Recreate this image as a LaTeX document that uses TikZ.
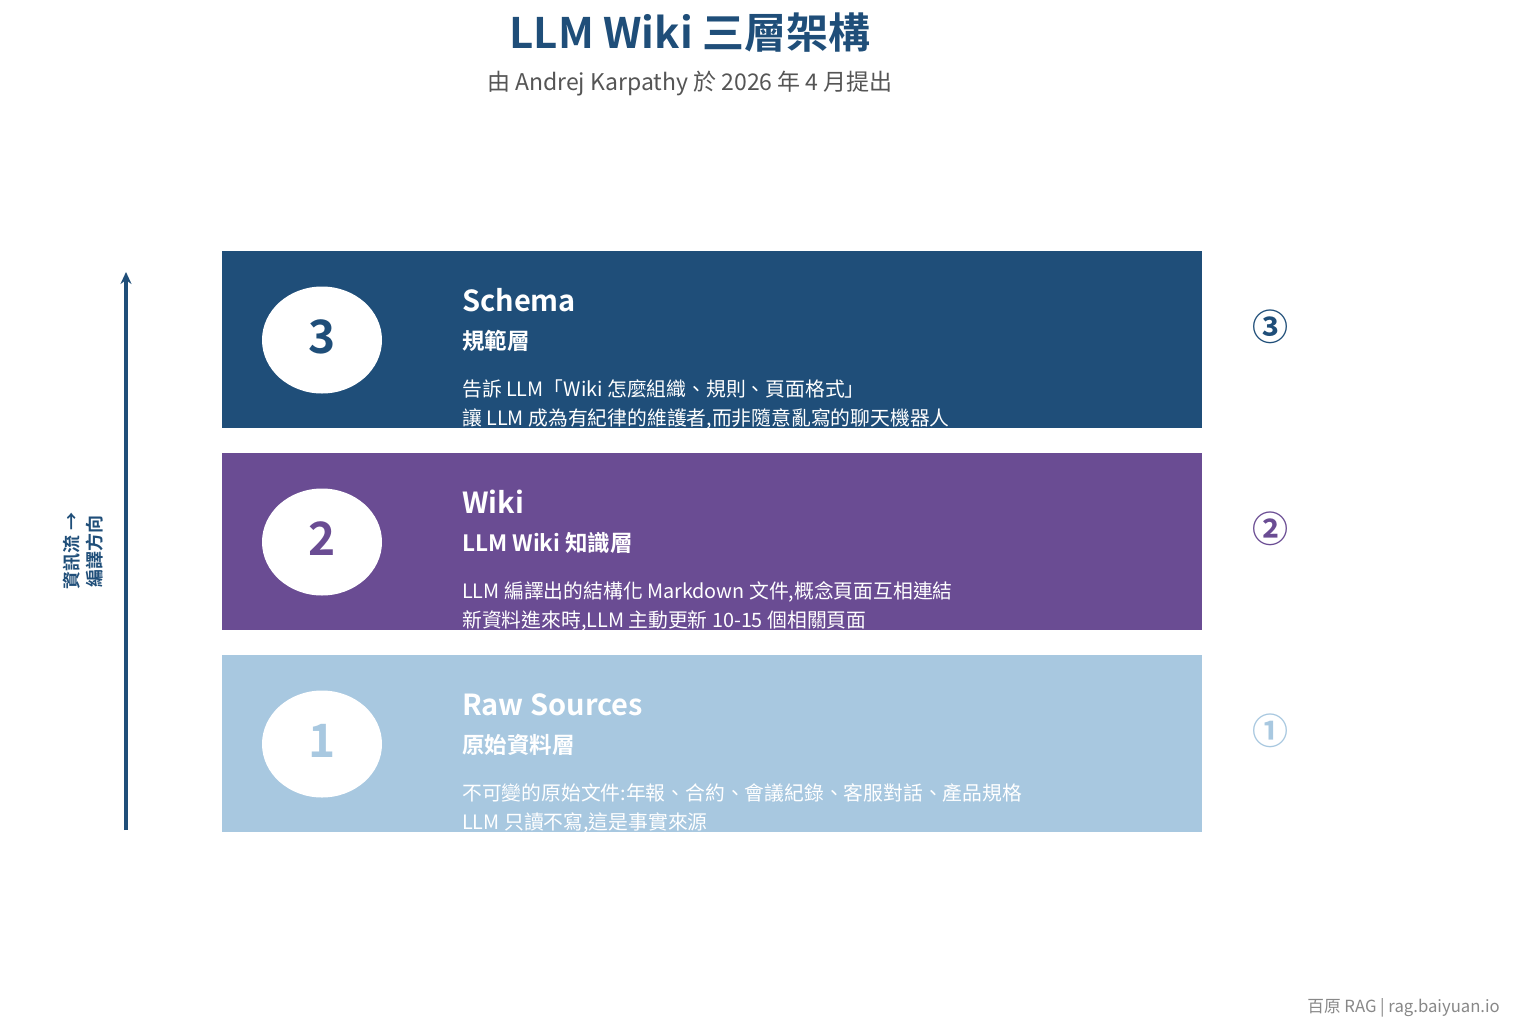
\documentclass[tikz,border=0pt]{standalone}
\usepackage{fontspec}
\setmainfont{Noto Sans CJK TC}[BoldFont=* Bold]
\usetikzlibrary{arrows.meta,shapes.geometric}
\definecolor{cdark}{HTML}{1F4E79}
\definecolor{cpurple}{HTML}{6A4C93}
\definecolor{clight}{HTML}{A8C8E0}
\definecolor{cgray}{HTML}{555555}
\definecolor{cfoot}{HTML}{888888}
\begin{document}
\begin{tikzpicture}[x=1pt,y=-1pt,
  layerbox/.style={fill=#1,draw=none,minimum width=980pt,minimum height=177pt,anchor=north west,inner sep=0pt},
  badge/.style={ellipse,fill=white,minimum width=120pt,minimum height=107pt,inner sep=0pt,text=#1,font=\bfseries\fontsize{46}{50}\selectfont},
  ltitle/.style={anchor=base west,text=white,font=\bfseries\fontsize{29}{33}\selectfont,inner sep=0pt},
  lsub/.style={anchor=base west,text=white,font=\bfseries\fontsize{22.5}{26}\selectfont,inner sep=0pt},
  ldesc/.style={anchor=base west,text=white,font=\fontsize{19.8}{23}\selectfont,inner sep=0pt},
  side/.style={text=#1,font=\bfseries\fontsize{36}{40}\selectfont,inner sep=0pt},
]
\useasboundingbox (0,0) rectangle (1515,1034);
\fill[white] (0,0) rectangle (1515,1034);
% title
\node[text=cdark,font=\bfseries\fontsize{42}{46}\selectfont,inner sep=0pt] (title) at (690,33) {LLM Wiki 三層架構};
\node[text=cgray,font=\fontsize{23}{27}\selectfont,inner sep=0pt] (subtitle) at (690,84) {由 Andrej Karpathy 於 2026 年 4 月提出};
% layers
\node[layerbox=cdark] (b3) at (222,251) {};
\node[layerbox=cpurple] (b2) at (222,453) {};
\node[layerbox=clight] (b1) at (222,655) {};
% badges
\node[badge=cdark] (n3) at (322,340) {\raisebox{6pt}{3}};
\node[badge=cpurple] (n2) at (322,542) {\raisebox{6pt}{2}};
\node[badge=clight] (n1) at (322,744) {\raisebox{6pt}{1}};
% layer 3 text
\node[ltitle] (t3) at (462,311) {Schema};
\node[lsub] (s3) at (462,349) {規範層};
\node[ldesc] (d3a) at (462,396) {告訴 LLM「Wiki 怎麼組織、規則、頁面格式」};
\node[ldesc] (d3b) at (462,425) {讓 LLM 成為有紀律的維護者,而非隨意亂寫的聊天機器人};
% layer 2 text
\node[ltitle] (t2) at (462,513) {Wiki};
\node[lsub] (s2) at (462,551) {LLM Wiki 知識層};
\node[ldesc] (d2a) at (462,598) {LLM 編譯出的結構化 Markdown 文件,概念頁面互相連結};
\node[ldesc] (d2b) at (462,627) {新資料進來時,LLM 主動更新 10-15 個相關頁面};
% layer 1 text
\node[ltitle] (t1) at (462,715) {Raw Sources};
\node[lsub] (s1) at (462,753) {原始資料層};
\node[ldesc] (d1a) at (462,800) {不可變的原始文件:年報、合約、會議紀錄、客服對話、產品規格};
\node[ldesc] (d1b) at (462,829) {LLM 只讀不寫,這是事實來源};
% side markers
\node[side=cdark] (m3) at (1270,327) {③};
\node[side=cpurple] (m2) at (1270,529) {②};
\node[side=clight] (m1) at (1270,731) {①};
% flow arrow
\coordinate (abot) at (126,830);
\coordinate (atop) at (126,272);
\draw[cdark,line width=4pt,-{Stealth[length=12pt,width=11pt]}] (abot) -- (atop);
\node[rotate=90,text=cdark,font=\bfseries\fontsize{18}{23}\selectfont,align=center,inner sep=0pt] (flow) at (83,551) {資訊流 →\\編譯方向};
% footer
\node[anchor=east,text=cfoot,font=\fontsize{16.7}{20}\selectfont,inner sep=0pt] (foot) at (1500,1008) {百原 RAG | rag.baiyuan.io};
\end{tikzpicture}
\end{document}
